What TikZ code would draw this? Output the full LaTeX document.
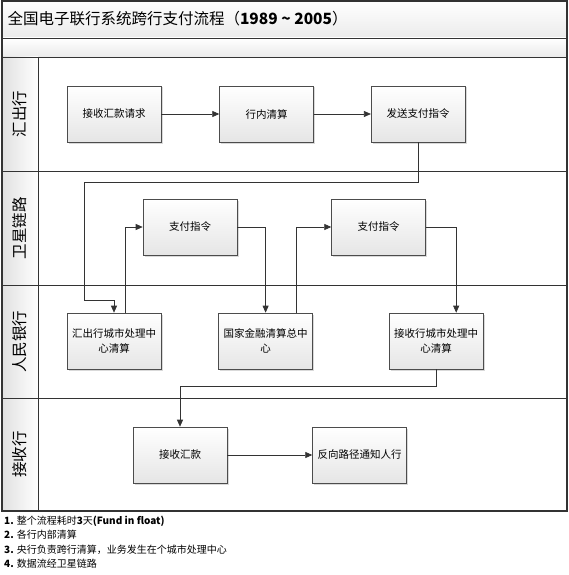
\documentclass[tikz,border=0pt]{standalone}
\usepackage{fontspec}
\setmainfont{Noto Sans CJK SC}
\usetikzlibrary{positioning,arrows.meta,shadows}

\tikzset{
  stepbox/.style={draw=black!70, line width=0.6pt, top color=white, bottom color=black!10,
    minimum width=94pt, minimum height=56pt, text width=90pt, align=center,
    font=\fontsize{10.5}{15}\selectfont, inner sep=2pt,
    drop shadow={shadow xshift=1.5pt, shadow yshift=-1.5pt, fill=black!25, opacity=0.6}},
  flow/.style={draw=black!80, line width=0.7pt, -{Triangle[length=7pt,width=6pt]}},
  lane/.style={draw=black!80, line width=0.8pt},
  lanelabel/.style={rotate=90, font=\fontsize{15.5}{15.5}\selectfont},
  bar/.style={draw=black!80, line width=0.8pt, top color=white, bottom color=black!8}
}

\begin{document}
\begin{tikzpicture}[x=1pt, y=-1pt]
\useasboundingbox (0,0) rectangle (569,575);

% title bars
\draw[bar] (2,1) rectangle (567,38);
\draw[bar] (2,38) rectangle (567,57);
\node[anchor=west, font=\fontsize{15.5}{15.5}\selectfont] (title) at (4,19)
  {全国电子联行系统跨行支付流程（\textbf{1989 \textasciitilde\ 2005}）};

% lanes
\foreach \top/\bot/\name in {57/171/汇出行, 171/285/卫星链路, 285/398/人民银行, 398/511/接收行}{
  \draw[lane] (38,\top) rectangle (567,\bot);
  \draw[lane, left color=black!12, right color=white] (2,\top) rectangle (38,\bot);
  \node[lanelabel] at (20,{(\top+\bot)/2}) {\name};
}
\draw[draw=black!80, line width=1.2pt] (2,1) rectangle (567,511);

% 汇出行
\node[stepbox] (a) at (114,114) {接收汇款请求};
\node[stepbox, right=58pt of a] (b) {行内清算};
\node[stepbox, right=57pt of b] (c) {发送支付指令};

% 卫星链路
\node[stepbox] (e1) at (190,227) {支付指令};
\node[stepbox, right=94pt of e1] (e2) {支付指令};

% 人民银行
\node[stepbox] (d1) at (114,341) {汇出行城市处理中\\心清算};
\node[stepbox, right=57pt of d1] (d2) {国家金融清算总中\\心};
\node[stepbox, right=76pt of d2] (d3) {接收行城市处理中\\心清算};

% 接收行
\node[stepbox] (f1) at (180,455) {接收汇款};
\node[stepbox, right=85pt of f1] (f2) {反向路径通知人行};

\coordinate (k1) at (84,182);
\coordinate (k2) at (84,300);

\draw[flow] (a) -- (b);
\draw[flow] (b) -- (c);
\draw[flow] (c.south) |- (k1) -- (k2) -| (d1.north);
\draw[flow] ([xshift=11pt]d1.north) |- (e1.west);
\draw[flow] (e1.east) -| (d2.north);
\draw[flow] ([xshift=31pt]d2.north) |- (e2.west);
\draw[flow] (e2.east) -| ([xshift=20pt]d3.north);
\draw[flow] (d3.south) -- ++(0,17) -| (f1.north);
\draw[flow] (f1) -- (f2);

% notes
\node[anchor=north west, align=left, inner sep=0pt, font=\fontsize{10}{14.3}\selectfont] (notes) at (4,516)
  {\textbf{1.} 整个流程耗时\textbf{3}天\textbf{(Fund in float)}\\
   \textbf{2.} 各行内部清算\\
   \textbf{3.} 央行负责跨行清算，业务发生在个城市处理中心\\
   \textbf{4.} 数据流经卫星链路};
\end{tikzpicture}
\end{document}
